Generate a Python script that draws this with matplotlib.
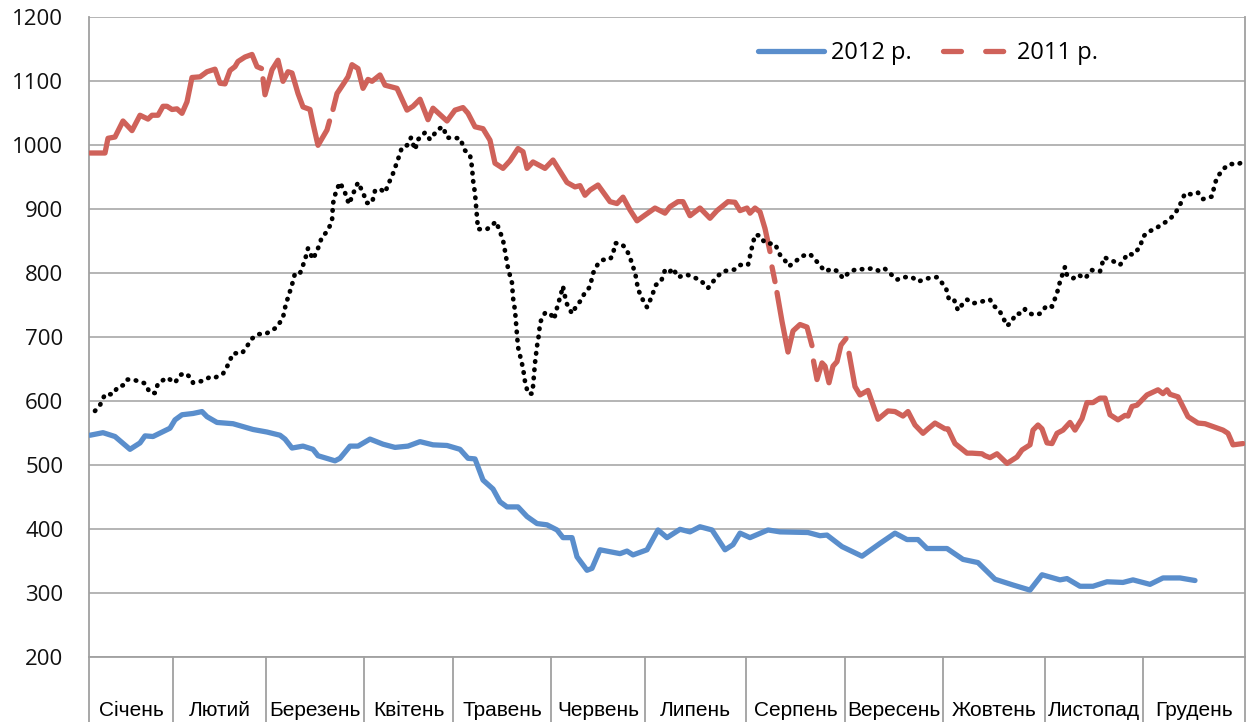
import numpy as np
import matplotlib.pyplot as plt
import matplotlib.transforms as mtransforms
from matplotlib.lines import Line2D

# month bands on the time axis (same units as the t_* arrays below)
months = ["Січень", "Лютий", "Березень", "Квітень", "Травень", "Червень",
          "Липень", "Серпень", "Вересень", "Жовтень", "Листопад", "Грудень"]
month_edges = [0, 8.4, 17.7, 27.5, 36.4, 46.2, 55.6, 65.7, 75.6, 85.4, 95.6, 105.4, 115.6]

# 2012
t_2012 = [0.1, 1.4, 2.6, 4.1, 5.1, 5.6, 6.4, 8.1, 8.6, 9.3, 10.4, 11.3, 11.8, 12.8, 14.4,
          16.4, 17.8, 19.1, 19.6, 20.3, 21.4, 22.4, 22.9, 24.6, 25.1, 26.1, 26.9, 28.1, 29.4,
          30.6, 31.9, 33.1, 34.4, 35.8, 37.1, 37.9, 38.6, 39.4, 40.4, 41.1, 41.8, 42.9, 43.8,
          44.8, 45.8, 46.8, 47.4, 48.3, 48.8, 49.8, 50.3, 51.1, 53.1, 53.8, 54.4, 55.8, 56.9,
          57.8, 59.1, 60.1, 61.1, 62.3, 63.6, 64.4, 65.1, 66.1, 67.9, 69.1, 71.9, 73.1, 73.8,
          75.3, 77.3, 79.1, 80.6, 81.8, 82.9, 83.8, 85.8, 87.4, 88.9, 90.6, 92.4, 94.1, 95.3,
          97.1, 97.8, 99.1, 100.4, 101.8, 103.4, 104.4, 106.1, 107.4, 109.1, 110.6]
v_2012 = [547, 551, 545, 525, 535, 546, 545, 558, 571, 579, 581, 584, 576, 567, 565,
          556, 552, 547, 541, 527, 530, 525, 515, 507, 511, 530, 530, 541, 533,
          528, 530, 537, 532, 531, 525, 511, 510, 477, 463, 443, 435, 435, 420,
          409, 407, 399, 387, 387, 357, 336, 339, 368, 362, 366, 360, 368, 399,
          387, 400, 396, 404, 399, 368, 376, 394, 387, 399, 396, 395, 390, 391,
          373, 358, 378, 394, 384, 384, 370, 370, 353, 348, 322, 313, 305, 329,
          321, 323, 311, 311, 318, 317, 321, 314, 324, 324, 320]

# 2011 (None = break in the drawn line)
t_2011 = [0.1, 1.6, 1.9, 2.6, 3.4, 4.3, 5.1, 5.9, 6.3, 6.9, 7.4, 7.8, 8.3, 8.8, 9.3, 9.8,
          10.3, 11.1, 11.8, 12.6, 13.1, 13.6, 14.1, 14.6, 14.9, 15.6, 16.3, 16.8, 17.25, None,
          17.4, 17.6, 18.3, 18.9, 19.4, 19.9, 20.3, 20.9, 21.4, 22.1, 22.4, 22.9, 23.8, 24.05, None,
          24.4, 24.8, 25.4, 25.9, 26.3, 26.9, 27.4, 27.9, 28.3, 29.1, 29.6, 30.8, 31.8,
          32.4, 33.1, 33.9, 34.4, 35.8, 36.6, 37.4, 37.9, 38.6, 39.4, 40.1, 40.6, 41.4,
          42.1, 42.9, 43.4, 43.8, 44.4, 45.6, 46.4, 47.8, 48.6, 49.1, 49.6, 50.1, 50.9,
          52.1, 52.8, 53.4, 54.1, 54.8, 55.6, 56.6, 57.6, 58.1, 58.9, 59.4, 60.1, 61.1,
          62.1, 62.8, 63.9, 64.6, 65.1, 65.8, 66.1, 66.6, 67.1, 67.6, 68.1, None,
          68.3, 68.6, None, 68.8, 69.3, 69.9, 70.4, 71.1, 71.8, 72.3, None,
          72.45, 72.8, 73.3, 73.6, 74.0, 74.4, 74.8, 75.2, 75.7, None,
          76.0, 76.6, 77.1, 77.9, 78.9, 79.9, 80.6, 81.4, 81.9, 82.6, 83.4, 83.9, 84.6,
          85.6, 85.9, 86.6, 87.8, 88.3, 89.3, 89.6, 90.1, 90.8, 91.8, 92.8, 93.3, 94.1,
          94.4, 94.9, 95.3, 95.8, 96.3, 96.8, 97.4, 98.1, 98.6, 99.3, 99.8, 100.4, 101.1,
          101.6, 102.1, 102.9, 103.6, 103.9, 104.3, 104.8, 105.8, 106.9, 107.4, 107.8,
          108.1, 108.9, 109.9, 110.9, 111.6, 113.4, 113.9, 114.4, 115.4]
v_2011 = [988, 988, 1011, 1013, 1038, 1023, 1047, 1041, 1047, 1047, 1061, 1061, 1056, 1057, 1050, 1068,
          1106, 1107, 1115, 1119, 1097, 1096, 1117, 1123, 1131, 1138, 1142, 1123, 1120, None,
          1104, 1079, 1118, 1133, 1100, 1115, 1113, 1081, 1060, 1056, 1034, 1000, 1024, 1038, None,
          1056, 1081, 1095, 1107, 1126, 1120, 1089, 1103, 1100, 1110, 1094, 1089, 1055,
          1061, 1072, 1040, 1058, 1038, 1055, 1059, 1050, 1029, 1026, 1008, 972, 964,
          976, 995, 990, 964, 974, 964, 977, 942, 935, 937, 922, 930, 938,
          912, 909, 919, 899, 882, 891, 902, 894, 904, 912, 912, 890, 902,
          886, 898, 912, 911, 898, 902, 894, 902, 896, 870, 834, None,
          810, 787, None, 770, 725, 677, 710, 720, 716, 687, None,
          663, 634, 660, 655, 629, 655, 662, 688, 698, None,
          675, 623, 610, 617, 572, 585, 584, 577, 584, 563, 550, 557, 566,
          557, 557, 534, 519, 519, 518, 515, 512, 518, 503, 513, 524, 532,
          555, 563, 557, 535, 534, 550, 555, 567, 555, 573, 598, 598, 605,
          605, 579, 571, 578, 577, 592, 594, 610, 618, 612, 618,
          611, 607, 576, 566, 565, 555, 550, 532, 534]

# third series (dotted, not in the legend)
t_other = [0.6, 1.1, 1.6, 2.4, 2.9, 3.4, 3.8, 4.4, 5.6, 6.1, 6.6, 6.9, 7.8, 8.6, 9.1, 9.6,
           10.1, 10.4, 11.4, 12.1, 12.6, 13.4, 13.9, 14.4, 15.3, 15.8, 16.3, 16.9, 17.6, 18.1,
           18.8, 19.4, 19.7, 19.9, 20.3, 20.6, 21.1, 21.6, 21.9, 22.4, 22.9, 23.3, 23.8, 24.3,
           24.4, 24.7, 25.1, 25.6, 26.0, 26.4, 26.9, 27.4, 27.8, 28.3, 28.6, 29.1, 29.6, 29.9,
           30.4, 30.9, 31.3, 31.8, 32.2, 32.6, 32.9, 33.6, 34.1, 34.4, 34.9, 35.4, 35.8, 37.1,
           37.6, 38.1, 38.3, 38.4, 38.6, 38.7, 38.8, 38.9, 39.8, 40.3, 40.7, 41.1, 41.4, 41.6,
           41.9, 42.3, 42.4, 42.6, 42.7, 42.8, 42.9, 43.1, 43.4, 43.6, 43.9, 44.3, 44.4, 44.5,
           44.6, 44.8, 45.0, 45.1, 45.6, 46.1, 46.5, 46.9, 47.1, 47.4, 47.5, 47.8, 48.3, 48.7,
           49.1, 49.6, 50.1, 50.4, 50.9, 51.4, 52.1, 52.4, 52.6, 53.1, 53.6, 54.0, 54.4, 54.7,
           54.9, 55.4, 55.8, 56.2, 56.7, 57.2, 57.6, 58.0, 58.4, 58.9, 59.8, 60.4, 61.1, 61.9,
           62.4, 62.9, 63.4, 64.1, 64.6, 65.1, 65.9, 66.3, 66.6, 67.1, 67.6, 68.6, 69.1, 69.6,
           70.0, 70.6, 71.3, 72.1, 72.8, 73.6, 74.3, 74.9, 75.4, 76.1, 76.9, 77.6, 78.4, 79.1,
           79.6, 80.3, 80.8, 81.4, 82.3, 82.9, 83.8, 84.8, 85.3, 85.7, 86.0, 86.5, 86.9, 87.4,
           87.8, 88.4, 89.3, 90.1, 90.4, 91.0, 91.4, 91.8, 92.2, 92.7, 93.3, 93.6, 94.1, 94.6,
           95.1, 95.8, 96.3, 96.8, 97.1, 97.6, 97.8, 98.4, 98.9, 99.6, 100.3, 101.1, 101.5,
           102.3, 103.1, 103.9, 104.4, 105.1, 105.4, 105.9, 106.6, 107.3, 107.9, 108.6, 109.1,
           109.6, 110.4, 110.9, 111.4, 112.3, 112.6, 112.9, 113.5, 114.1, 114.8, 115.4]
v_other = [585, 594, 611, 611, 623, 625, 634, 634, 628, 613, 613, 628, 637, 629, 641, 644,
           638, 629, 632, 638, 637, 643, 657, 675, 675, 686, 698, 705, 705, 709,
           716, 731, 753, 762, 782, 800, 800, 821, 839, 822, 839, 857, 865, 881,
           909, 928, 942, 926, 908, 924, 942, 926, 910, 910, 929, 932, 926, 938,
           956, 978, 997, 1000, 1012, 993, 1009, 1020, 1009, 1015, 1025, 1029, 1012, 1011,
           992, 985, 966, 946, 925, 907, 888, 869, 869, 875, 881, 865, 852, 835,
           808, 785, 762, 742, 723, 704, 685, 672, 652, 631, 612, 612, 623, 641,
           660, 686, 705, 723, 738, 738, 728, 752, 762, 780, 770, 752, 737, 748,
           756, 770, 779, 800, 815, 821, 822, 829, 847, 847, 841, 829, 811, 794,
           775, 758, 747, 761, 782, 787, 805, 801, 808, 794, 798, 794, 790, 777,
           787, 796, 803, 805, 806, 813, 813, 841, 860, 859, 847, 846, 829, 820,
           811, 818, 827, 830, 818, 803, 807, 803, 792, 803, 807, 806, 808, 803,
           807, 797, 790, 794, 794, 787, 792, 794, 785, 777, 759, 759, 742, 753,
           759, 753, 756, 759, 750, 743, 731, 718, 723, 737, 737, 744, 737, 735,
           737, 750, 748, 769, 787, 810, 797, 792, 798, 792, 805, 803, 825,
           820, 813, 831, 829, 841, 857, 865, 869, 877, 882, 893, 907,
           925, 923, 926, 916, 920, 941, 952, 964, 971, 970, 974]

blue = "#5a8ecc"
red = "#cf625a"
grey = "#a0a0a0"

fig = plt.figure(figsize=(12.5, 7.22), dpi=100)
ax = fig.add_axes([0.0712, 0.0896, 0.9248, 0.8864])

t12 = np.array(t_2012, dtype=float)
y12 = np.array(v_2012, dtype=float)
t11 = np.array(t_2011, dtype=float)
y11 = np.array(v_2011, dtype=float)

ax.plot(t12, y12, color=blue, lw=3.8, solid_capstyle="round", solid_joinstyle="round", zorder=3)
ax.plot(t11, y11, color=red, lw=3.8, solid_capstyle="round", solid_joinstyle="round", zorder=3)
ax.plot(t_other, v_other, color="black", lw=3.4, linestyle=(0, (0.1, 1.65)),
        dash_capstyle="round", zorder=4)

ax.set_xlim(month_edges[0], month_edges[-1])
ax.set_ylim(200, 1200)
ax.set_yticks(range(200, 1201, 100))
ax.set_xticks([])
ax.yaxis.grid(True, color=grey, lw=1.1)
ax.set_axisbelow(True)
ax.tick_params(axis="y", length=0, pad=18.5, labelsize=16, labelcolor="#111111")
for lab in ax.get_yticklabels():
    lab.set_fontfamily("Open Sans")

ax.spines["top"].set_visible(False)
for s in ["left", "right", "bottom"]:
    ax.spines[s].set_color(grey)
    ax.spines[s].set_linewidth(1.3)

# month separators and names under the plot area
trans = mtransforms.blended_transform_factory(ax.transData, ax.transAxes)
for e in month_edges:
    ax.plot([e, e], [0, -0.11], transform=trans, color=grey, lw=1.3, clip_on=False)
for i, name in enumerate(months):
    mid = (month_edges[i] + month_edges[i + 1]) / 2
    ax.text(mid, -0.0917, name, transform=trans, ha="center", va="baseline",
            fontsize=15, family="Liberation Sans", color="black")

h12 = Line2D([], [], color=blue, lw=3.8, solid_capstyle="round")
h11 = Line2D([], [], color=red, lw=3.8, dashes=(3.4, 4.6), dash_capstyle="round")
ax.legend([h12, h11], ["2012 р.", "2011 р."], ncol=2, frameon=False,
          loc="center left", bbox_to_anchor=(0.606, 0.9266), bbox_transform=fig.transFigure,
          borderpad=0, borderaxespad=0, handlelength=2.8, handletextpad=0.3,
          columnspacing=1.35, prop={"family": "Open Sans", "size": 17})

fig.savefig("out.png", dpi=100)
